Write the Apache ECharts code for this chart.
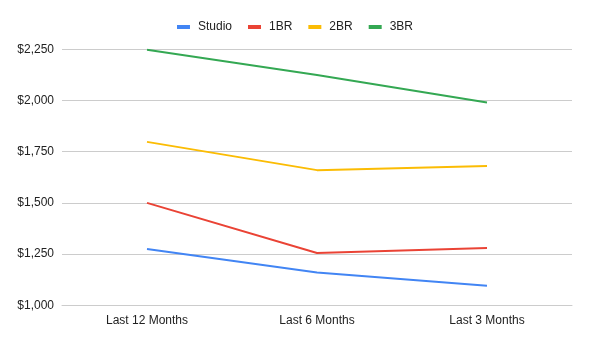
<!DOCTYPE html>
<html>
<head>
<meta charset="utf-8">
<script src="https://cdn.jsdelivr.net/npm/echarts@6/dist/echarts.min.js"></script>
<style>
  html, body { margin: 0; padding: 0; background: #fff; }
  #chart { width: 590px; height: 343px; }
</style>
</head>
<body>
<div id="chart"></div>
<script>
// Average rent by unit type over recent periods
const periods = ['Last 12 Months', 'Last 6 Months', 'Last 3 Months'];
const studio = [1275, 1160, 1095];
const oneBR = [1500, 1255, 1280];
const twoBR = [1798, 1660, 1680];
const threeBR = [2248, 2125, 1990];

const seriesNames = ['Studio', '1BR', '2BR', '3BR'];
const seriesColors = ['#4285F4', '#EA4335', '#FBBC04', '#34A853'];
const seriesData = [studio, oneBR, twoBR, threeBR];

const fmt = v => '$' + v.toLocaleString('en-US');

const chart = echarts.init(document.getElementById('chart'));
chart.setOption({
  animation: false,
  textStyle: { fontFamily: '"Liberation Sans", Arial, sans-serif' },
  legend: {
    top: 16,
    left: 'center',
    itemWidth: 13,
    itemHeight: 4,
    itemGap: 16,
    icon: 'rect',
    textStyle: { fontSize: 12, color: '#222', padding: [0, 0, 0, 3] },
    data: seriesNames
  },
  grid: { left: 62, right: 18, top: 49.3, bottom: 37.7, containLabel: false },
  xAxis: {
    type: 'category',
    data: periods,
    boundaryGap: true,
    axisLine: { show: true, lineStyle: { color: '#ccc' } },
    axisTick: { show: false },
    axisLabel: { color: '#222', fontSize: 12, margin: 9 }
  },
  yAxis: {
    type: 'value',
    min: 1000,
    max: 2250,
    interval: 250,
    axisLine: { show: false },
    axisTick: { show: false },
    splitLine: { lineStyle: { color: '#ccc', width: 1 } },
    axisLabel: { color: '#222', fontSize: 12, margin: 8, formatter: fmt }
  },
  series: seriesNames.map((name, i) => ({
    name,
    type: 'line',
    data: seriesData[i],
    color: seriesColors[i],
    symbol: 'none',
    lineStyle: { width: 2 }
  }))
});
</script>
</body>
</html>
